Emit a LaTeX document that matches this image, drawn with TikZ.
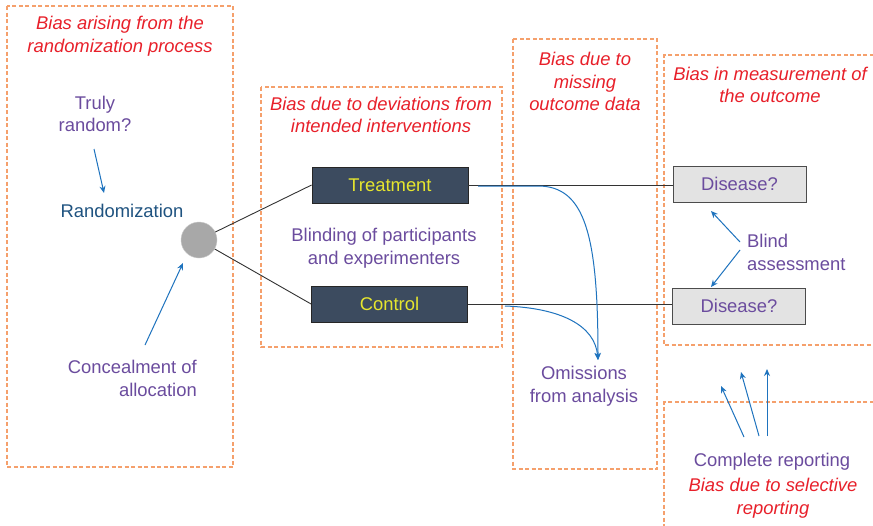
\documentclass[tikz,border=0pt]{standalone}
\usepackage{fontspec}
\setmainfont{Liberation Sans}
\usetikzlibrary{arrows.meta}
\definecolor{dashor}{HTML}{F5A06C}
\definecolor{tred}{HTML}{E8202A}
\definecolor{tpurple}{HTML}{6B4C9E}
\definecolor{tdblue}{HTML}{1F5380}
\definecolor{navy}{HTML}{3C4B5F}
\definecolor{tyellow}{HTML}{E6E62E}
\definecolor{abl}{HTML}{1E73BE}
\definecolor{dgray}{HTML}{E3E3E3}
\tikzset{
  region/.style={draw=dashor, line width=1.1pt, dash pattern=on 4pt off 2.5pt},
  title/.style={text=tred, font=\fontsize{18.4}{22.8}\selectfont\itshape, align=center, inner sep=0pt},
  note/.style={text=tpurple, font=\fontsize{18.4}{22.8}\selectfont, align=center, inner sep=0pt},
  armbox/.style={draw=black!85, fill=navy, text=tyellow, font=\fontsize{18.4}{22.8}\selectfont, minimum width=156pt, minimum height=36pt, inner sep=0pt, line width=0.8pt},
  disbox/.style={draw=black!70, fill=dgray, text=tpurple, font=\fontsize{18.4}{22.8}\selectfont, minimum width=133pt, minimum height=36pt, inner sep=0pt, line width=1pt},
  barrow/.style={draw=abl, line width=1pt, -{Stealth[length=7pt,width=6pt]}},
  link/.style={draw=black!80, line width=0.9pt},
}
\begin{document}
\begin{tikzpicture}[x=1pt,y=-1pt]
\clip (0,0) rectangle (873,525);
\fill[white] (0,0) rectangle (873,525);
% regions
\draw[region] (7,6) rectangle (233,467);
\draw[region] (261,87) rectangle (502,347);
\draw[region] (513,39) rectangle (657,469);
\draw[region] (880,55) -- (664,55) -- (664,345) -- (880,345);
\draw[region] (880,402) -- (664,402) -- (664,540);
% titles
\node[title] (t1) at (120,36.5) {Bias arising from the\\randomization process};
\node[title] (t2) at (381,115) {Bias due to deviations from\\intended interventions};
\node[title] (t3) at (585,81.5) {Bias due to\\missing\\outcome data};
\node[title] (t4) at (770,85) {Bias in measurement of\\the outcome};
\node[title] (t5) at (773,498.5) {Bias due to selective\\reporting};
% notes
\node[note] (truly) at (95,114) {Truly\\random?};
\node[note, text=tdblue] (rand) at (122,211) {Randomization};
\node[note, align=right, anchor=east] (conc) at (197,378.5) {Concealment of\\allocation};
\node[note] (blindp) at (384,248.5) {Blinding of participants\\and experimenters};
\node[note] (omis) at (584,386) {Omissions\\from analysis};
\node[note, align=left, anchor=west] (blind) at (747,252.5) {Blind\\assessment};
\node[note] (comp) at (772,462) {Complete reporting};
% circle
\node[circle, fill=black!34, draw=black!20, minimum size=36pt, inner sep=0pt] (circ) at (199,240) {};
% boxes
\node[armbox] (treat) at (390,185) {Treatment};
\node[armbox] (ctrl) at (389.5,304) {Control};
\node[disbox] (dis1) at (739.5,184) {Disease?};
\node[disbox] (dis2) at (739,306) {Disease?};
% links
\draw[link] (circ) -- (treat.west);
\draw[link] (circ) -- (ctrl.west);
\draw[link] (treat.east) -- (dis1.west |- treat.east);
\draw[link] (ctrl.east) -- (dis2.west |- ctrl.east);
% blue arrows
\coordinate (a1s) at (94,149);
\coordinate (a1e) at (104,193);
\draw[barrow] (a1s) -- (a1e);
\coordinate (a2s) at (145,345);
\coordinate (a2e) at (183,263);
\draw[barrow] (a2s) -- (a2e);
\coordinate (omtop) at (598,360);
\coordinate (tcs) at (478,186);
\coordinate (tcm) at (538,186);
\draw[barrow] (tcs) -- (tcm) .. controls (585,186) and (598,235) .. (omtop);
\coordinate (ccs) at (505,306);
\draw[barrow] (ccs) .. controls (560,308) and (595,325) .. (omtop);
\coordinate (b1s) at (740,242);
\coordinate (b1e) at (711,211);
\coordinate (b2s) at (740,250);
\coordinate (b2e) at (711,287);
\draw[barrow] (b1s) -- (b1e);
\draw[barrow] (b2s) -- (b2e);
\coordinate (c1s) at (744,437);
\coordinate (c1e) at (721,386);
\coordinate (c2s) at (759,436);
\coordinate (c2e) at (741,372);
\coordinate (c3s) at (767,436);
\coordinate (c3e) at (767,369);
\draw[barrow] (c1s) -- (c1e);
\draw[barrow] (c2s) -- (c2e);
\draw[barrow] (c3s) -- (c3e);
\end{tikzpicture}
\end{document}
